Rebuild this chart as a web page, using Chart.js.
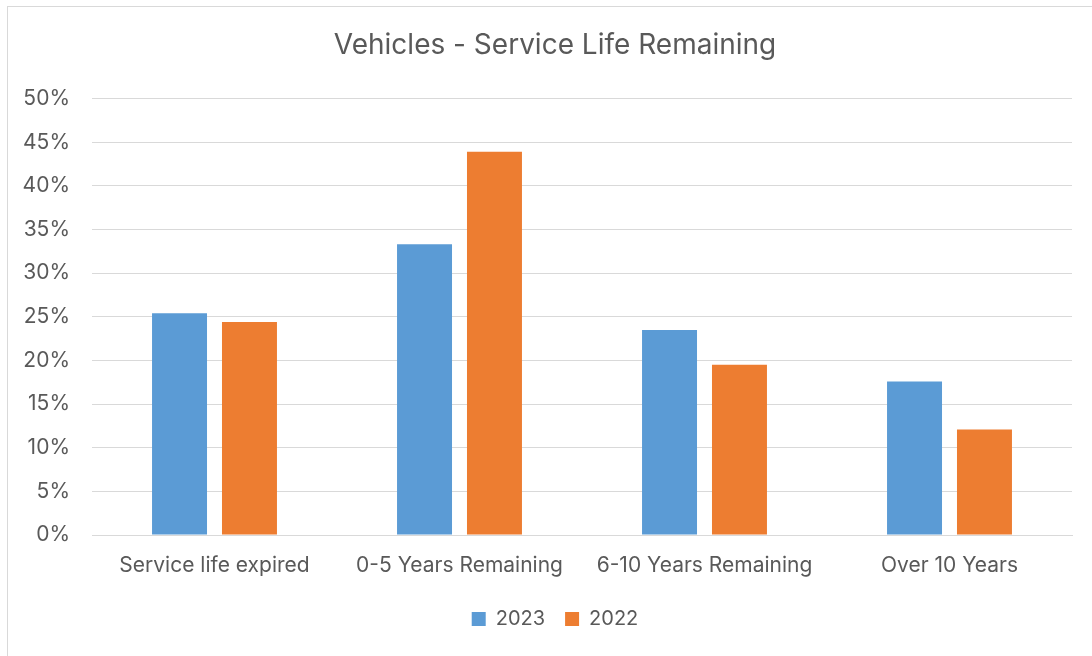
<!DOCTYPE html>
<html>
<head>
<meta charset="utf-8">
<script src="https://cdn.jsdelivr.net/npm/chart.js@4"></script>
<style>
    html, body { margin: 0; padding: 0; background: #fff; overflow: hidden; }
    #box {
        position: absolute; left: 7px; top: 6px;
        width: 1098px; height: 660px;
        border: 1px solid #d9d9d9; box-sizing: border-box;
    }
</style>
</head>
<body>
<div id="box"><canvas id="chart" width="1094" height="658"></canvas></div>
<script>
const categories = ['Service life expired', '0-5 Years Remaining', '6-10 Years Remaining', 'Over 10 Years'];
const values2023 = [25.4, 33.3, 23.5, 17.6];
const values2022 = [24.4, 43.9, 19.5, 12.1];
const yTicks = [0, 5, 10, 15, 20, 25, 30, 35, 40, 45, 50];

const FONT = 'Inter, "Open Sans", sans-serif';
const TEXT = '#595959';

const ctx = document.getElementById('chart').getContext('2d');
new Chart(ctx, {
    type: 'bar',
    data: {
        labels: categories,
        datasets: [
            { label: '2023', data: values2023, backgroundColor: '#5B9BD5' },
            { label: '2022', data: values2022, backgroundColor: '#ED7D31' }
        ]
    },
    options: {
        responsive: false,
        animation: false,
        categoryPercentage: 0.571,
        barPercentage: 0.786,
        layout: { padding: { left: 0, right: 0, top: 0, bottom: 26 } },
        scales: {
            x: {
                grid: { display: false },
                border: { color: '#d9d9d9', width: 1 },
                ticks: { color: TEXT, font: { family: FONT, size: 21 }, padding: 10, maxRotation: 0 },
                afterFit: s => { s.height = 54; }
            },
            y: {
                min: 0,
                max: 50,
                border: { display: false },
                grid: { color: '#d9d9d9', drawTicks: false },
                afterBuildTicks: s => { s.ticks = yTicks.map(v => ({ value: v })); },
                ticks: {
                    color: TEXT,
                    font: { family: FONT, size: 21 },
                    padding: 22,
                    callback: v => v + '%'
                },
                afterFit: s => { s.width = 84; }
            },
            // empty right axis, only there to leave space so title and legend stay centred
            yRight: {
                type: 'linear',
                position: 'right',
                grid: { display: false },
                border: { display: false },
                ticks: { display: false },
                afterFit: s => { s.width = 30; }
            }
        },
        plugins: {
            title: {
                display: true,
                text: 'Vehicles - Service Life Remaining',
                color: TEXT,
                font: { family: FONT, size: 28, weight: 'normal' },
                padding: { top: 22, bottom: 36 }
            },
            legend: {
                position: 'bottom',
                labels: {
                    color: TEXT,
                    font: { family: FONT, size: 20 },
                    boxWidth: 14,
                    boxHeight: 14,
                    padding: 20
                }
            },
            tooltip: { enabled: false }
        }
    }
});
</script>
</body>
</html>
